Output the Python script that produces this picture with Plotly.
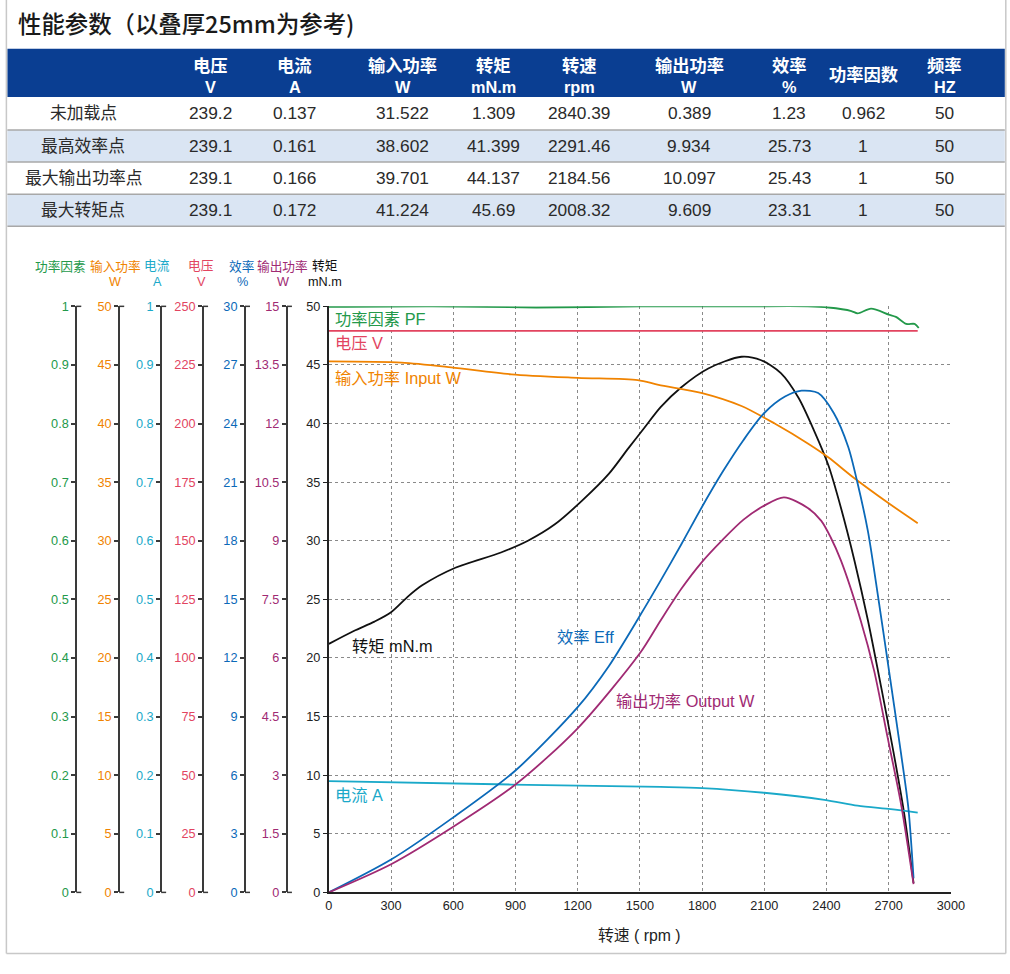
import plotly.graph_objects as go

# ---------------- data ----------------
title_text = "性能参数（以叠厚25mm为参考)"
col_names = ["电压", "电流", "输入功率", "转矩", "转速", "输出功率", "效率", "功率因数", "频率"]
col_units = ["V", "A", "W", "mN.m", "rpm", "W", "%", "", "HZ"]
row_labels = ["未加载点", "最高效率点", "最大输出功率点", "最大转矩点"]
row_no_load = ["239.2", "0.137", "31.522", "1.309", "2840.39", "0.389", "1.23", "0.962", "50"]
row_max_eff = ["239.1", "0.161", "38.602", "41.399", "2291.46", "9.934", "25.73", "1", "50"]
row_max_out = ["239.1", "0.166", "39.701", "44.137", "2184.56", "10.097", "25.43", "1", "50"]
row_max_torque = ["239.1", "0.172", "41.224", "45.69", "2008.32", "9.609", "23.31", "1", "50"]

torque_rpm = [0, 120, 220, 300, 385, 450, 610, 830, 960, 1090, 1220, 1350, 1445, 1520, 1600,
              1700, 1830, 1990, 2085, 2180, 2265, 2340, 2410, 2470, 2535, 2600, 2665, 2725, 2775, 2820]
torque_mNm = [21.2, 22.3, 23.1, 23.9, 25.3, 26.2, 27.7, 29.0, 30.0, 31.4, 33.4, 35.7, 37.9, 39.6, 41.4,
              43.1, 44.7, 45.7, 45.4, 44.3, 42.2, 39.4, 36.4, 32.8, 28.3, 23.2, 17.4, 11.8, 6.7, 0.8]

eff_rpm = [0, 300, 600, 900, 1200, 1350, 1500, 1600, 1700, 1800, 1900, 2000, 2100, 2200,
           2280, 2360, 2435, 2505, 2550, 2600, 2650, 2695, 2760, 2795, 2820]
eff_pct = [0, 1.68, 3.84, 6.24, 9.48, 11.58, 14.16, 15.96, 17.82, 19.74, 21.54, 23.16, 24.54, 25.38,
           25.68, 25.56, 24.54, 22.8, 20.94, 18.48, 15.06, 11.82, 7.08, 4.32, 0.72]

out_rpm = [0, 300, 600, 900, 1200, 1500, 1600, 1700, 1800, 1900, 2000, 2100, 2195, 2310, 2375, 2420,
           2470, 2565, 2630, 2695, 2760, 2820]
out_w = [0, 0.72, 1.68, 2.76, 4.2, 6.12, 6.96, 7.77, 8.46, 9.03, 9.54, 9.9, 10.11, 9.84, 9.51, 9.09,
         8.49, 6.96, 5.67, 3.96, 2.25, 0.21]

in_rpm = [0, 350, 590, 880, 1200, 1490, 1590, 1800, 1990, 2150, 2310, 2410, 2530, 2700, 2840]
in_w = [45.3, 45.2, 44.8, 44.2, 43.9, 43.7, 43.3, 42.6, 41.5, 40.0, 38.3, 37.1, 35.4, 33.2, 31.5]

cur_rpm = [0, 880, 1600, 1800, 2100, 2390, 2550, 2710, 2840]
cur_a = [0.190, 0.184, 0.180, 0.178, 0.170, 0.158, 0.148, 0.142, 0.136]

pf_rpm = [0, 500, 1000, 1500, 2000, 2310, 2410, 2520, 2550, 2615, 2700, 2735, 2785, 2825, 2845]
pf_val = [0.999, 1.0, 0.998, 1.0, 1.0, 1.0, 0.998, 0.992, 0.988, 0.996, 0.986, 0.982, 0.970, 0.970, 0.963]

volt_rpm = [0, 2840]
volt_v = [239.5, 239.5]

rpm_ticks = ["0", "300", "600", "900", "1200", "1500", "1800", "2100", "2400", "2700", "3000"]
torque_ticks = ["0", "5", "10", "15", "20", "25", "30", "35", "40", "45", "50"]
pf_ticks = ["0", "0.1", "0.2", "0.3", "0.4", "0.5", "0.6", "0.7", "0.8", "0.9", "1"]
in_ticks = ["0", "5", "10", "15", "20", "25", "30", "35", "40", "45", "50"]
cur_ticks = ["0", "0.1", "0.2", "0.3", "0.4", "0.5", "0.6", "0.7", "0.8", "0.9", "1"]
volt_ticks = ["0", "25", "50", "75", "100", "125", "150", "175", "200", "225", "250"]
eff_ticks = ["0", "3", "6", "9", "12", "15", "18", "21", "24", "27", "30"]
out_ticks = ["0", "1.5", "3", "4.5", "6", "7.5", "9", "10.5", "12", "13.5", "15"]

# ---------------- styling ----------------
# observed page-to-picture transform: picture = S * figure + (OX, OY)
S, OX, OY = 0.984, 1.6, 7.2
FW, FH = 1024, 983
def px(x): return (x - OX) / S / FW
def py(y): return 1 - (y - OY) / S / FH
def fs(n): return round(n / S, 1)

FONT = "Liberation Sans, Noto Sans CJK SC, sans-serif"
C_PF, C_IN, C_CUR, C_V, C_EFF, C_OUT, C_TQ = "#23994a", "#f08300", "#1aa9c9", "#e2445f", "#0b69b8", "#a02a73", "#111111"
AX_LINE = "#3a3a3a"
X0, X1, Y0, Y1 = 327, 950, 891, 306
YDOM = [py(Y0), py(Y1)]

fig = go.Figure()

def add_line(x, y, color, yax):
    fig.add_trace(go.Scatter(x=x, y=y, mode="lines", yaxis=yax, hoverinfo="skip",
                             line=dict(color=color, width=1.8, shape="spline", smoothing=0.8)))

add_line(volt_rpm, volt_v, C_V, "y5")
add_line(pf_rpm, pf_val, C_PF, "y2")
add_line(in_rpm, in_w, C_IN, "y3")
add_line(cur_rpm, cur_a, C_CUR, "y4")
add_line(out_rpm, out_w, C_OUT, "y7")
add_line(eff_rpm, eff_pct, C_EFF, "y6")
add_line(torque_rpm, torque_mNm, C_TQ, "y")

layout = dict(
    width=FW, height=FH, margin=dict(l=0, r=0, t=0, b=0),
    paper_bgcolor="white", plot_bgcolor="white", showlegend=False,
    font=dict(family=FONT, color="#222"),
    xaxis=dict(domain=[px(X0), px(X1)], range=[0, 3000], tickmode="array",
               tickvals=[float(t) for t in rpm_ticks], ticktext=rpm_ticks,
               showgrid=True, gridcolor="#8a8a8a", griddash="dot", gridwidth=1,
               showline=True, linecolor="#222", linewidth=2, zeroline=False, ticks="",
               tickfont=dict(size=fs(12.5), color="#222"), fixedrange=True),
    yaxis=dict(domain=YDOM, range=[0, 50], tickmode="array",
               tickvals=[float(t) for t in torque_ticks], ticktext=torque_ticks,
               showgrid=True, gridcolor="#8a8a8a", griddash="dot", gridwidth=1,
               showline=True, linecolor="#222", linewidth=2, zeroline=False,
               ticks="outside", ticklen=4, tickcolor="#222",
               tickfont=dict(size=fs(12.5), color="#222"), fixedrange=True),
)

left_axes = [
    ("yaxis2", [0, 1], pf_ticks, C_PF, 74),
    ("yaxis3", [0, 50], in_ticks, C_IN, 117),
    ("yaxis4", [0, 1], cur_ticks, C_CUR, 159),
    ("yaxis5", [0, 250], volt_ticks, C_V, 201),
    ("yaxis6", [0, 30], eff_ticks, C_EFF, 243),
    ("yaxis7", [0, 15], out_ticks, C_OUT, 285),
]
shapes = []
for key, rng, ticks, col, xp in left_axes:
    layout[key] = dict(domain=YDOM, range=rng, overlaying="y", anchor="free", position=px(xp),
                       side="left", tickmode="array", tickvals=[float(t) for t in ticks], ticktext=ticks,
                       showgrid=False, zeroline=False, showline=True, linecolor=AX_LINE, linewidth=2,
                       ticks="outside", ticklen=4, tickcolor=AX_LINE, tickwidth=1.5,
                       tickfont=dict(size=fs(12.5), color=col), fixedrange=True)
    for yy in (Y1, Y0):
        shapes.append(dict(type="line", xref="paper", yref="paper", x0=px(xp), x1=px(xp + 5),
                           y0=py(yy), y1=py(yy), line=dict(color=AX_LINE, width=1.5)))

# page border
for (xa, ya, xb, yb) in [(4, 0, 4, 952), (1005, 0, 1005, 952), (4, 952, 1005, 952)]:
    shapes.append(dict(type="line", xref="paper", yref="paper", x0=px(xa), y0=py(ya), x1=px(xb), y1=py(yb),
                       line=dict(color="#c8c8c8", width=1.5)))

# table
shapes.append(dict(type="rect", xref="paper", yref="paper", x0=px(5), x1=px(1004), y0=py(97), y1=py(49),
                   fillcolor="#0a3e92", line=dict(width=0), layer="below"))
row_bounds = [(97, 130), (130, 162), (162, 194), (194, 226)]
for i, (ya, yb) in enumerate(row_bounds):
    if i % 2 == 1:
        shapes.append(dict(type="rect", xref="paper", yref="paper", x0=px(5), x1=px(1004), y0=py(yb), y1=py(ya),
                           fillcolor="#dae5f3", line=dict(width=0), layer="below"))
    shapes.append(dict(type="line", xref="paper", yref="paper", x0=px(5), x1=px(1004), y0=py(yb), y1=py(yb),
                       line=dict(color="#a8a8a8", width=1.5)))

annotations = []
def ann(text, x, y, size, color, xanchor="center", family=FONT, bold=False, weight=None):
    t = f"<b>{text}</b>" if bold else text
    f = dict(size=fs(size), color=color, family=family)
    if weight:
        f["weight"] = weight
    annotations.append(dict(text=t, x=px(x), y=py(y), xref="paper", yref="paper", showarrow=False,
                            xanchor=xanchor, yanchor="middle", font=f))

ann(title_text, 14, 23, 23, "#1a1a1a", xanchor="left", family="Noto Sans CJK SC, sans-serif", weight=500)

col_x = [208, 293, 401, 492, 578, 688, 788, 862, 944]
for name, unit, cx in zip(col_names, col_units, col_x):
    if unit:
        ann(name, cx, 66, 17, "white", bold=True)
        ann(unit, cx, 87, 16, "white", bold=True)
    else:
        ann(name, cx, 75, 17, "white", bold=True)

rows = [row_no_load, row_max_eff, row_max_out, row_max_torque]
for (ya, yb), lab, vals in zip(row_bounds, row_labels, rows):
    yc = (ya + yb) / 2
    ann(lab, 81, yc, 16.5, "#2a2a2a")
    for v, cx in zip(vals, col_x):
        ann(v, cx, yc, 17, "#2a2a2a")

# axis titles
axis_titles = [("功率因素", "", C_PF, 58), ("输入功率", "W", C_IN, 113), ("电流", "A", C_CUR, 155),
               ("电压", "V", C_V, 199), ("效率", "%", C_EFF, 240), ("输出功率", "W", C_OUT, 281),
               ("转矩", "mN.m", C_TQ, 323)]
for t1, t2, col, cx in axis_titles:
    ann(t1, cx, 266, 12.5, col)
    if t2:
        ann(t2, cx, 282, 12.5, col)

# curve labels
curve_labels = [("功率因素 PF", C_PF, 331, 319), ("电压 V", C_V, 331, 343), ("输入功率 Input W", C_IN, 331, 378),
                ("转矩 mN.m", C_TQ, 348, 645), ("效率 Eff", C_EFF, 553, 636),
                ("输出功率 Output W", C_OUT, 613, 700), ("电流 A", C_CUR, 331, 794)]
for t, col, x, y in curve_labels:
    ann(t, x, y, 16, col, xanchor="left")

ann("转速 ( rpm )", 638, 934, 15.5, "#222")

layout["shapes"] = shapes
layout["annotations"] = annotations
fig.update_layout(**layout)
fig.write_html("out.html")
